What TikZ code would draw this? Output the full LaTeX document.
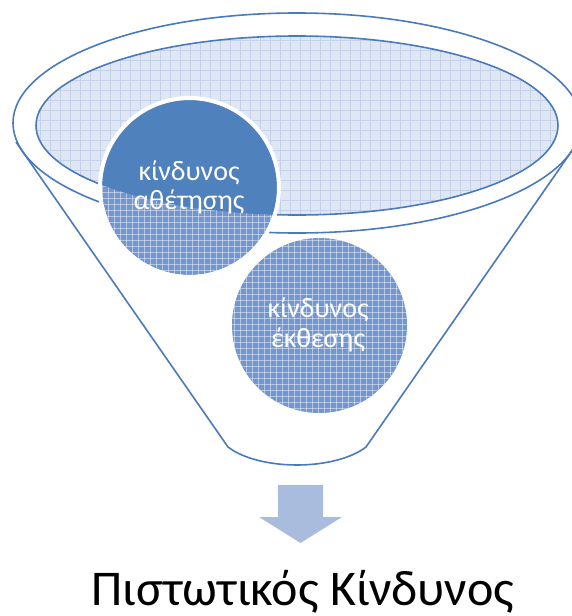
\documentclass[tikz,border=0pt]{standalone}
\usepackage{fontspec}
\setmainfont{Carlito}
\definecolor{accent}{RGB}{79,129,189}
\definecolor{lineblue}{RGB}{74,122,188}
\definecolor{patbase}{RGB}{116,150,206}
\definecolor{lightbase}{RGB}{224,231,244}
\definecolor{lightgrid}{RGB}{196,209,233}
\definecolor{arrowblue}{RGB}{170,188,221}
\begin{document}
\begin{tikzpicture}[x=1pt,y=-1pt,
  outline/.style={draw=lineblue,line width=1.6pt},
  whitegrid/.style={draw=white,line width=1pt,opacity=0.45},
  lightlines/.style={draw=lightgrid,line width=0.8pt},
  circtext/.style={text=white,inner sep=0pt,anchor=base,font=\fontsize{28}{32}\selectfont}]
\useasboundingbox (0,0) rectangle (572,616);
% funnel body
\draw[outline,fill=white] (16,142) -- (228,447)
  arc[start angle=149.6,end angle=30.4,x radius=80,y radius=36.4] -- (578,142);
\draw[outline] (297,123) ellipse[x radius=284,y radius=110];
% inner ellipse
\fill[lightbase] (297,125.5) ellipse[x radius=261,y radius=89.5];
\begin{scope}
  \clip (297,125.5) ellipse[x radius=261,y radius=89.5];
  \foreach \i in {40,50,...,560} {\draw[lightlines] (\i,30) -- (\i,220);}
  \foreach \j in {40,50,...,210} {\draw[lightlines] (30,\j) -- (570,\j);}
\end{scope}
\draw[outline] (297,125.5) ellipse[x radius=261,y radius=89.5];
% circle 2
\fill[patbase] (319.5,325.5) circle (87.5);
\begin{scope}
  \clip (319.5,325.5) circle (87.5);
  \foreach \i in {234,240,...,414} {\draw[whitegrid] (\i,234) -- (\i,420);}
  \foreach \j in {234,240,...,420} {\draw[whitegrid] (228,\j) -- (414,\j);}
\end{scope}
% circle 1
\fill[patbase] (189.5,187.5) circle (87.5);
\begin{scope}
  \clip (189.5,187.5) circle (87.5);
  \foreach \i in {96,102,...,282} {\draw[whitegrid] (\i,96) -- (\i,282);}
  \foreach \j in {96,102,...,282} {\draw[whitegrid] (96,\j) -- (282,\j);}
\end{scope}
\begin{scope}
  \clip (297,125.5) ellipse[x radius=261,y radius=89.5];
  \fill[accent] (189.5,187.5) circle (87.5);
\end{scope}
\draw[white,line width=4pt] (189.5,187.5) circle (89.5);
% texts
\node[circtext] (t1a) at (189,180) {κίνδυνος};
\node[circtext] (t1b) at (189,209) {αθέτησης};
\node[circtext] (t2a) at (318,317) {κίνδυνος};
\node[circtext] (t2b) at (318,347) {έκθεσης};
% arrow
\fill[arrowblue] (278,485) -- (323,485) -- (323,517) -- (342,517) -- (300.5,543)
  -- (259,517) -- (278,517) -- cycle;
% title
\node[inner sep=0pt,anchor=base,font=\fontsize{50}{60}\selectfont] (title) at (303,605) {Πιστωτικός Κίνδυνος};
\end{tikzpicture}
\end{document}
